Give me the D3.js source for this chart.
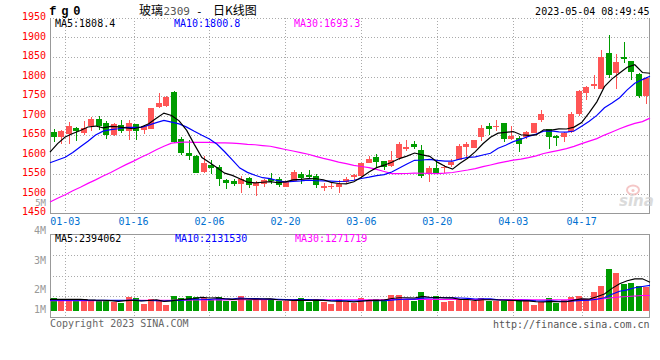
<!DOCTYPE html>
<html><head><meta charset="utf-8">
<script src="https://cdn.jsdelivr.net/npm/d3@7"></script>
<style>body{margin:0;background:#fff}svg{display:block}</style>
</head><body>
<svg id="c" width="660" height="360"></svg>
<script>
// ---------- data ----------
const dates = ["2022-12-29","2022-12-30",
"2023-01-03","2023-01-04","2023-01-05","2023-01-06","2023-01-09","2023-01-10","2023-01-11","2023-01-12","2023-01-13","2023-01-16","2023-01-17","2023-01-18","2023-01-19","2023-01-20","2023-01-30","2023-01-31",
"2023-02-01","2023-02-02","2023-02-03","2023-02-06","2023-02-07","2023-02-08","2023-02-09","2023-02-10","2023-02-13","2023-02-14","2023-02-15","2023-02-16","2023-02-17","2023-02-20","2023-02-21","2023-02-22","2023-02-23","2023-02-24","2023-02-27","2023-02-28",
"2023-03-01","2023-03-02","2023-03-03","2023-03-06","2023-03-07","2023-03-08","2023-03-09","2023-03-10","2023-03-13","2023-03-14","2023-03-15","2023-03-16","2023-03-17","2023-03-20","2023-03-21","2023-03-22","2023-03-23","2023-03-24","2023-03-27","2023-03-28","2023-03-29","2023-03-30","2023-03-31",
"2023-04-03","2023-04-04","2023-04-06","2023-04-07","2023-04-10","2023-04-11","2023-04-12","2023-04-13","2023-04-14","2023-04-17","2023-04-18","2023-04-19","2023-04-20","2023-04-21","2023-04-24","2023-04-25","2023-04-26","2023-04-27","2023-04-28"];

const openP = [1657,1645,1652,1668,1655,1672,1691,1681,1650,1675,
1661,1678,1664,1666,1721,1724,1760,1639,1603,1596,
1554,1574,1567,1534,1531,1524,1541,1519,1524,1538,
1538,1517,1532,1549,1547,1544,1515,1518,1517,1530,
1542,1546,1578,1594,1583,1571,1590,1615,1627,1611,
1549,1566,1565,1572,1587,1620,1617,1644,1672,1672,
1680,1639,1643,1645,1656,1688,1665,1647,1644,1658,
1705,1758,1775,1769,1861,1810,1849,1840,1807,1751];
const highP = [1665,1663,1683,1670,1686,1695,1698,1685,1682,1688,
1688,1679,1675,1720,1757,1750,1763,1645,1636,1600,
1595,1585,1572,1537,1537,1544,1542,1532,1538,1552,
1542,1533,1560,1554,1560,1549,1527,1527,1534,1542,
1551,1578,1596,1602,1583,1609,1632,1637,1634,1624,
1570,1587,1573,1589,1626,1632,1637,1675,1682,1688,
1680,1673,1647,1660,1682,1714,1666,1651,1657,1710,
1765,1776,1804,1868,1906,1858,1888,1840,1810,1799];
const lowP = [1632,1628,1627,1635,1650,1661,1664,1641,1647,1655,
1637,1637,1652,1665,1718,1722,1630,1598,1586,1552,
1552,1549,1519,1511,1519,1501,1513,1494,1517,1525,
1517,1516,1532,1525,1538,1515,1507,1512,1502,1527,
1535,1537,1577,1568,1560,1568,1587,1609,1613,1540,
1530,1551,1553,1568,1585,1594,1616,1635,1651,1660,
1632,1638,1607,1641,1654,1683,1613,1622,1631,1654,
1698,1741,1769,1768,1795,1768,1834,1792,1745,1729];
const closeP = [1645,1661,1673,1660,1668,1691,1673,1650,1678,1661,
1680,1661,1673,1718,1732,1747,1631,1603,1596,1553,
1578,1566,1537,1527,1524,1536,1522,1528,1534,1531,
1523,1533,1554,1539,1542,1521,1520,1520,1525,1537,
1548,1578,1589,1580,1568,1585,1626,1620,1620,1545,
1565,1552,1568,1582,1622,1628,1637,1669,1665,1674,
1639,1647,1628,1657,1680,1704,1644,1643,1656,1704,
1763,1772,1780,1851,1804,1838,1846,1812,1751,1797];

const ma5 = [1606,1628,1645,1654,1661.4,1670.6,1673.0,1668.4,1672.0,1670.6,
1668.4,1666.0,1670.6,1678.6,1692.8,1706.2,1700.2,1686.2,1661.8,1626.0,
1592.2,1579.2,1566.0,1552.2,1546.4,1538.0,1529.2,1527.4,1528.8,1530.2,
1527.6,1529.8,1535.0,1536.0,1538.2,1537.8,1535.2,1528.4,1525.6,1524.6,
1530.0,1541.6,1555.4,1566.4,1572.6,1580.0,1589.6,1595.8,1603.8,1599.2,
1595.2,1580.4,1570.0,1562.4,1577.8,1590.4,1607.4,1627.6,1644.2,1654.6,
1656.8,1658.8,1650.6,1649.0,1650.2,1663.2,1662.6,1665.6,1665.4,1670.2,
1682.0,1707.6,1735.0,1774.0,1794.0,1809.0,1823.8,1830.2,1810.2,1808.4];
const ma10 = [1579,1586,1593,1605,1620,1634,1650,1660,1664,1666.0,
1669.5,1669.5,1669.5,1675.3,1681.7,1687.3,1683.1,1678.4,1670.2,1659.4,
1649.2,1639.7,1626.1,1607.0,1586.2,1565.1,1554.2,1546.7,1540.5,1538.3,
1532.8,1529.5,1531.2,1532.4,1534.2,1532.7,1532.5,1531.7,1530.8,1531.4,
1533.9,1538.4,1541.9,1546.0,1548.6,1555.0,1565.6,1575.6,1585.1,1585.9,
1587.6,1585.0,1582.9,1583.1,1588.5,1592.8,1593.9,1598.8,1603.3,1616.2,
1623.6,1633.1,1639.1,1646.6,1652.4,1660.0,1660.7,1658.1,1657.2,1660.2,
1672.6,1685.1,1700.3,1719.7,1732.1,1745.5,1765.7,1782.6,1792.1,1800.8];
const ma30 = [1478,1488,1497,1507,1516,1526,1535,1545,1554,1564,
1574,1583,1593,1602,1612,1621,1629,1631,1632,1631,
1631,1631,1630,1630,1629,1628,1626,1625,1623,1621.2,
1617.2,1612.9,1608.9,1604.9,1600.7,1595.0,1589.9,1585.6,1580.5,1576.4,
1572.0,1569.2,1566.4,1561.8,1556.3,1550.9,1550.8,1551.3,1552.1,1551.9,
1551.4,1551.0,1552.0,1553.8,1557.1,1560.2,1564.0,1568.7,1573.1,1577.8,
1581.7,1585.5,1588.0,1591.9,1596.5,1602.6,1606.7,1610.8,1615.2,1620.8,
1627.9,1634.4,1640.7,1649.8,1657.7,1666.1,1673.4,1679.8,1684.2,1693.3];

// volume, millions of lots
const volume = [1.06,0.95,0.90,0.95,0.95,0.81,0.84,0.87,0.76,0.62,
1.13,1.04,0.53,0.98,0.90,0.48,1.23,1.04,1.23,1.13,
1.04,0.90,1.13,0.84,0.84,1.23,0.90,1.04,0.90,0.90,
0.84,0.84,0.84,1.04,0.76,0.95,0.76,0.56,0.95,0.76,
0.68,1.04,0.90,0.95,0.95,1.31,1.31,0.95,0.84,1.60,
0.95,1.23,0.76,0.84,0.90,0.95,0.84,1.04,0.84,0.81,
0.84,0.81,0.81,0.84,0.48,0.70,1.09,0.62,0.90,1.13,
1.23,0.98,1.60,2.08,3.50,3.20,2.24,2.36,2.08,2.02];
const volMa5 = [0.95,0.95,0.95,0.95,0.962,0.912,0.89,0.884,0.846,0.78,
0.844,0.884,0.816,0.86,0.916,0.786,0.824,0.926,0.976,1.022,
1.134,1.068,1.086,1.008,0.95,0.988,0.988,0.97,0.982,0.994,
0.916,0.904,0.864,0.892,0.864,0.886,0.87,0.814,0.796,0.796,
0.742,0.798,0.866,0.866,0.904,1.03,1.084,1.094,1.072,1.202,
1.13,1.114,1.076,1.076,0.936,0.936,0.858,0.914,0.914,0.896,
0.874,0.868,0.822,0.822,0.756,0.728,0.784,0.746,0.758,0.888,
0.994,0.972,1.168,1.404,1.878,2.272,2.524,2.676,2.676,2.394062];
const volMa10 = [0.88,0.88,0.88,0.88,0.88,0.88,0.88,0.88,0.88,0.871,
0.878,0.887,0.85,0.853,0.848,0.815,0.854,0.871,0.918,0.969,
0.96,0.946,1.006,0.992,0.986,1.061,1.028,1.028,0.995,0.972,
0.952,0.946,0.917,0.937,0.929,0.901,0.887,0.839,0.844,0.83,
0.814,0.834,0.84,0.831,0.85,0.886,0.941,0.98,0.969,1.053,
1.08,1.099,1.085,1.074,1.069,1.033,0.986,0.995,0.995,0.916,
0.905,0.863,0.868,0.868,0.826,0.801,0.826,0.784,0.79,0.822,
0.861,0.878,0.957,1.081,1.383,1.633,1.748,1.922,2.04,2.13153];
const volMa30 = [0.85,0.85,0.85,0.85,0.85,0.85,0.85,0.85,0.86,0.86,
0.86,0.87,0.87,0.87,0.88,0.88,0.88,0.89,0.89,0.90,
0.90,0.91,0.91,0.91,0.92,0.92,0.92,0.93,0.93,0.937,
0.93,0.926,0.924,0.927,0.921,0.926,0.923,0.913,0.919,0.924,
0.909,0.909,0.921,0.92,0.922,0.949,0.952,0.949,0.936,0.952,
0.949,0.96,0.947,0.947,0.949,0.94,0.938,0.938,0.936,0.933,
0.933,0.932,0.931,0.924,0.915,0.907,0.918,0.92,0.918,0.93,
0.949,0.947,0.97,1.008,1.093,1.156,1.187,1.234,1.275,1.271719];

const priceTicks = [1950,1900,1850,1800,1750,1700,1650,1600,1550,1500,1450];
const dateTicks = ["2023-01-03","2023-01-16","2023-02-06","2023-02-20","2023-03-06","2023-03-20","2023-04-03","2023-04-17"];
const volTickLabels = ["5M","4M","3M","2M","1M"];

// ---------- layout ----------
const L = 50, R = 650, T = 18, B = 213, VT = 234, VB = 317;
const RED = "#ff5555", GREEN = "#009c00", GRID = "#aaaaaa", FRAME = "#999999";
const MONO = "'DejaVu Sans Mono', 'Liberation Mono', monospace";

const svg = d3.select("#c");
const xb = d3.scaleBand().domain(dates).range([L, R]).paddingInner(0.2).paddingOuter(0.1);
const xp = d3.scalePoint().domain(dates).range([L, R]);
const y = d3.scaleLinear().domain([1450, 1950]).range([B, T]);
const yv = d3.scaleLinear().domain([0, 6.45]).range([310.7, 310.7 - 6.45 * 11.9]);
const yvGrid = d3.scaleLinear().domain([0, 4]).range([VB, VT]);

const crisp = v => Math.round(v) + 0.5;

// grid: horizontal (price)
svg.append("g").selectAll("line").data(priceTicks.filter(t => t !== 1450)).join("line")
  .attr("x1", L).attr("x2", R).attr("y1", d => crisp(y(d))).attr("y2", d => crisp(y(d)))
  .attr("stroke", GRID).attr("stroke-dasharray", "1,2");
// grid: horizontal (volume)
svg.append("g").selectAll("line").data([1, 2, 3]).join("line")
  .attr("x1", L).attr("x2", R).attr("y1", d => crisp(yvGrid(d))).attr("y2", d => crisp(yvGrid(d)))
  .attr("stroke", GRID).attr("stroke-dasharray", "1,2");
// grid: vertical
const vg = svg.append("g");
dateTicks.forEach(d => {
  const x = crisp(xp(d));
  vg.append("line").attr("x1", x).attr("x2", x).attr("y1", T).attr("y2", B)
    .attr("stroke", GRID).attr("stroke-dasharray", "1,2");
  vg.append("line").attr("x1", x).attr("x2", x).attr("y1", VT).attr("y2", VB)
    .attr("stroke", GRID).attr("stroke-dasharray", "1,2");
});

// frames
const fr = svg.append("g").attr("stroke", FRAME).attr("fill", "none");
fr.append("line").attr("x1", L + 0.5).attr("x2", L + 0.5).attr("y1", T).attr("y2", B + 0.5);
fr.append("line").attr("x1", R - 0.5).attr("x2", R - 0.5).attr("y1", T).attr("y2", B + 0.5);
fr.append("line").attr("x1", L).attr("x2", R).attr("y1", B + 0.5).attr("y2", B + 0.5);
fr.append("rect").attr("x", L + 0.5).attr("y", VT + 0.5).attr("width", R - L - 1).attr("height", VB - VT);

// candles
const cg = svg.append("g");
const bw = 6;
dates.forEach((d, i) => {
  const up = closeP[i] >= openP[i];
  const col = up ? RED : GREEN;
  const x0 = Math.round(xb(d));
  const yh = Math.round(y(highP[i])), yl = Math.round(y(lowP[i]));
  cg.append("rect").attr("x", x0 + 3).attr("y", yh).attr("width", 1).attr("height", Math.max(1, yl - yh)).attr("fill", col);
  const yt = Math.round(y(Math.max(openP[i], closeP[i])));
  const yb = Math.round(y(Math.min(openP[i], closeP[i])));
  cg.append("rect").attr("x", x0).attr("y", yt).attr("width", bw).attr("height", Math.max(1, yb - yt)).attr("fill", col);
});

// price MA lines
const lineP = arr => d3.line().x((v, i) => xp(dates[i])).y(v => y(v))(arr);
[[ma30, "#ff00ff"], [ma10, "#0000ff"], [ma5, "#000000"]].forEach(([a, c]) => {
  svg.append("path").attr("d", lineP(a)).attr("fill", "none").attr("stroke", c).attr("stroke-width", 1.2);
});

// volume bars
const vb = svg.append("g");
dates.forEach((d, i) => {
  const up = closeP[i] >= openP[i];
  const x0 = Math.round(xb(d));
  const yt = Math.round(yv(volume[i]));
  vb.append("rect").attr("x", x0).attr("y", yt).attr("width", bw)
    .attr("height", Math.round(yv(0)) - yt).attr("fill", up ? RED : GREEN);
});
const lineV = arr => d3.line().x((v, i) => xp(dates[i])).y(v => yv(v))(arr);
[[volMa30, "#ff00ff"], [volMa10, "#0000ff"], [volMa5, "#000000"]].forEach(([a, c]) => {
  svg.append("path").attr("d", lineV(a)).attr("fill", "none").attr("stroke", c).attr("stroke-width", 1.1);
});

// texts
const txt = (x, yy, s, col, anchor, size, extra) => {
  const t = svg.append("text").attr("x", x).attr("y", yy).text(s)
    .attr("fill", col).attr("font-family", MONO).attr("font-size", size || 10)
    .attr("text-anchor", anchor || "start");
  if (extra) extra(t);
  return t;
};
// price labels
priceTicks.forEach(t => txt(46, y(t) + 2.3, String(t), "#ff0000", "end"));
// volume tick labels (Sina places them irregularly; the top one sits under the price axis)
const volLabelY = [205.8, 234, 264, 293.3, 313.3];
volTickLabels.forEach((s, i) => txt(46, volLabelY[i], s, "#999999", "end", i === 0 ? 9 : 10));
// date labels
dateTicks.forEach(d => txt(xp(d), 225, d.slice(5), "#0070d0", "middle"));

// legends
const last = dates.length - 1;
txt(55, 27.3, "MA5:" + ma5[last].toFixed(1), "#000000");
txt(174, 27.3, "MA10:" + ma10[last].toFixed(1), "#0000ff");
txt(294, 27.3, "MA30:" + ma30[last].toFixed(1), "#ff00ff");
txt(55, 241.5, "MA5:" + Math.round(volMa5[last] * 1e6), "#000000");
txt(175, 241.5, "MA10:" + Math.round(volMa10[last] * 1e6), "#0000ff");
txt(295, 241.5, "MA30:" + Math.round(volMa30[last] * 1e6), "#ff00ff");

// header
txt(49.3, 15, "f g 0", "#000000", "start", 12, t => t.attr("font-weight", "bold").attr("letter-spacing", "-1.2px")
  .attr("font-family", "'Liberation Mono', 'DejaVu Sans Mono', monospace"));
const CJK = "'Noto Sans CJK SC', sans-serif";
svg.append("text").attr("x", 139).attr("y", 15).attr("font-family", CJK).attr("font-size", 12).attr("fill", "#000").text("玻璃");
svg.append("text").attr("x", 163.5).attr("y", 15).attr("font-family", MONO).attr("font-size", 11).attr("fill", "#555").text("2309");
svg.append("text").attr("x", 196).attr("y", 15).attr("font-family", MONO).attr("font-size", 11).attr("fill", "#000").text("-");
svg.append("text").attr("x", 213).attr("y", 15).attr("font-family", CJK).attr("font-size", 12).attr("fill", "#000").text("日K线图");
txt(649.5, 15, "2023-05-04 08:49:45", "#000000", "end");

// footer
txt(50, 327, "Copyright 2023 SINA.COM", "#666666");
txt(649.5, 327.5, "http://finance.sina.com.cn", "#555555", "end");

// sina watermark
const wm = svg.append("g").attr("opacity", 0.75);
wm.append("ellipse").attr("cx", 633).attr("cy", 190).attr("rx", 6).attr("ry", 4.5)
  .attr("fill", "none").attr("stroke", "#f2b5b5").attr("stroke-width", 2);
wm.append("circle").attr("cx", 633).attr("cy", 190.5).attr("r", 1.6).attr("fill", "#f2b5b5");
wm.append("text").attr("x", 619).attr("y", 206).attr("font-family", "'DejaVu Sans', sans-serif")
  .attr("font-size", 15).attr("font-style", "italic").attr("font-weight", "bold").attr("fill", "#d0d0d0").text("sina");
</script>
</body></html>
